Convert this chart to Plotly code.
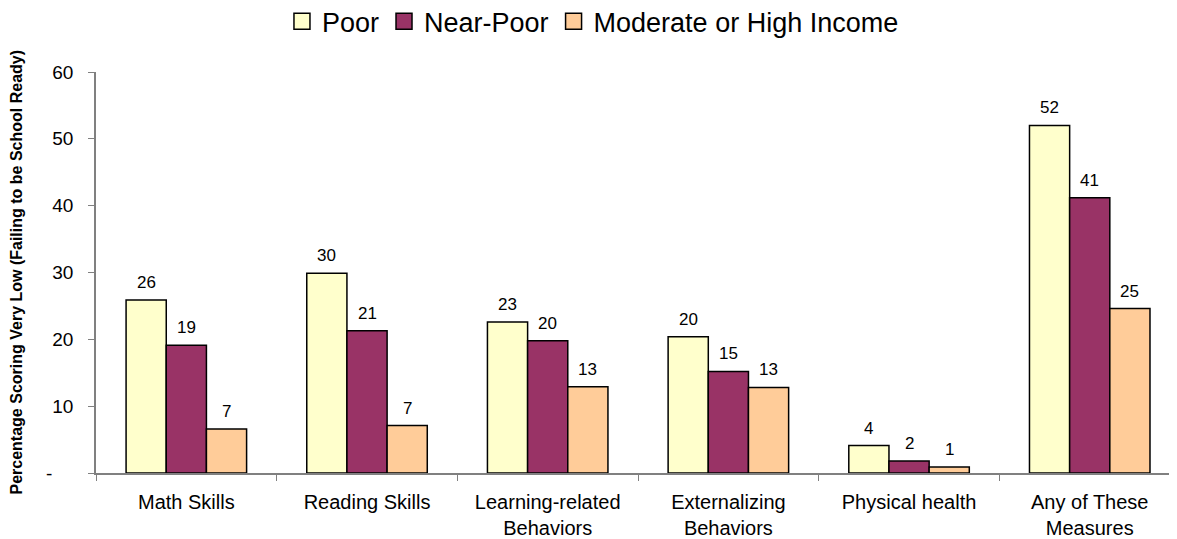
import plotly.graph_objects as go

categories = ["Math Skills", "Reading Skills", "Learning-related<br>Behaviors",
              "Externalizing<br>Behaviors", "Physical health", "Any of These<br>Measures"]
series_names = ["Poor", "Near-Poor", "Moderate or High Income"]
poor = [25.9, 29.9, 22.6, 20.4, 4.1, 52.0]
near_poor = [19.1, 21.3, 19.8, 15.2, 1.8, 41.2]
moderate = [6.6, 7.1, 12.9, 12.8, 0.9, 24.6]
y_tickvals = [0, 10, 20, 30, 40, 50, 60]
y_ticktext = ["-\u00a0\u00a0\u00a0\u00a0", "10", "20", "30", "40", "50", "60"]
y_title = "Percentage Scoring Very Low (Failing to be School Ready)"
colors = ["#FFFFCC", "#993366", "#FFCC99"]

FONT = "Liberation Sans, Arial, sans-serif"
W, H = 1169, 531  # page body has an 8px margin
fig = go.Figure()
all_series = [poor, near_poor, moderate]
for name, vals, col in zip(series_names, all_series, colors):
    fig.add_trace(go.Bar(
        x=categories, y=vals, name=name, showlegend=False,
        marker=dict(color=col, line=dict(color="black", width=1.5)),
    ))
# legend entries with larger square swatches
for name, col in zip(series_names, colors):
    fig.add_trace(go.Scatter(
        x=[None], y=[None], mode="markers", name=name, showlegend=True,
        marker=dict(symbol="square", size=16, color=col,
                    line=dict(color="black", width=1.5)),
    ))

# data labels
ngroups = len(all_series)
bargap = 0.333
w = (1 - bargap) / ngroups
for si, vals in enumerate(all_series):
    off = (si - (ngroups - 1) / 2) * w
    for ci, v in enumerate(vals):
        fig.add_annotation(x=ci + off, y=v, xref="x", yref="y",
                           text=str(int(round(v))), showarrow=False,
                           yanchor="bottom", yshift=6,
                           font=dict(family=FONT, size=17, color="black"))

ml, mt, mb, mr = 88, 64, 66, 0
plot_w = W - ml - mr
fig.add_annotation(text="<b>" + y_title + "</b>", textangle=-90,
                   xref="paper", yref="paper", x=(8 - ml) / plot_w, y=0.5,
                   xanchor="center", yanchor="middle", showarrow=False,
                   font=dict(family=FONT, size=16, color="black"))

fig.update_layout(
    width=W, height=H,
    margin=dict(l=ml, r=mr, t=mt, b=mb, autoexpand=False),
    paper_bgcolor="white", plot_bgcolor="white",
    barmode="group", bargap=bargap, bargroupgap=0,
    font=dict(family=FONT, color="black"),
    showlegend=True,
    legend=dict(orientation="h", xref="container", yref="container",
                x=0.5004, xanchor="center", y=0.974, yanchor="middle",
                font=dict(family=FONT, size=27, color="black"),
                itemsizing="trace", itemwidth=30, traceorder="normal"),
)
fig.update_xaxes(
    type="category", range=[-0.5, 5.483], automargin=False,
    showline=True, linecolor="#808080", linewidth=1.5,
    ticks="outside", tickson="boundaries", ticklen=6, tickcolor="#808080",
    tickfont=dict(family=FONT, size=20, color="black"),
    ticklabelstandoff=10,
    showgrid=False, zeroline=False,
)
fig.update_yaxes(
    range=[0, 60], tickvals=y_tickvals, ticktext=y_ticktext, automargin=False,
    showline=True, linecolor="#808080", linewidth=1.5,
    ticks="outside", ticklen=6, tickcolor="#808080",
    tickfont=dict(family=FONT, size=19, color="black"),
    ticklabelstandoff=11,
    showgrid=False, zeroline=False,
)
fig.write_html("out.html")
